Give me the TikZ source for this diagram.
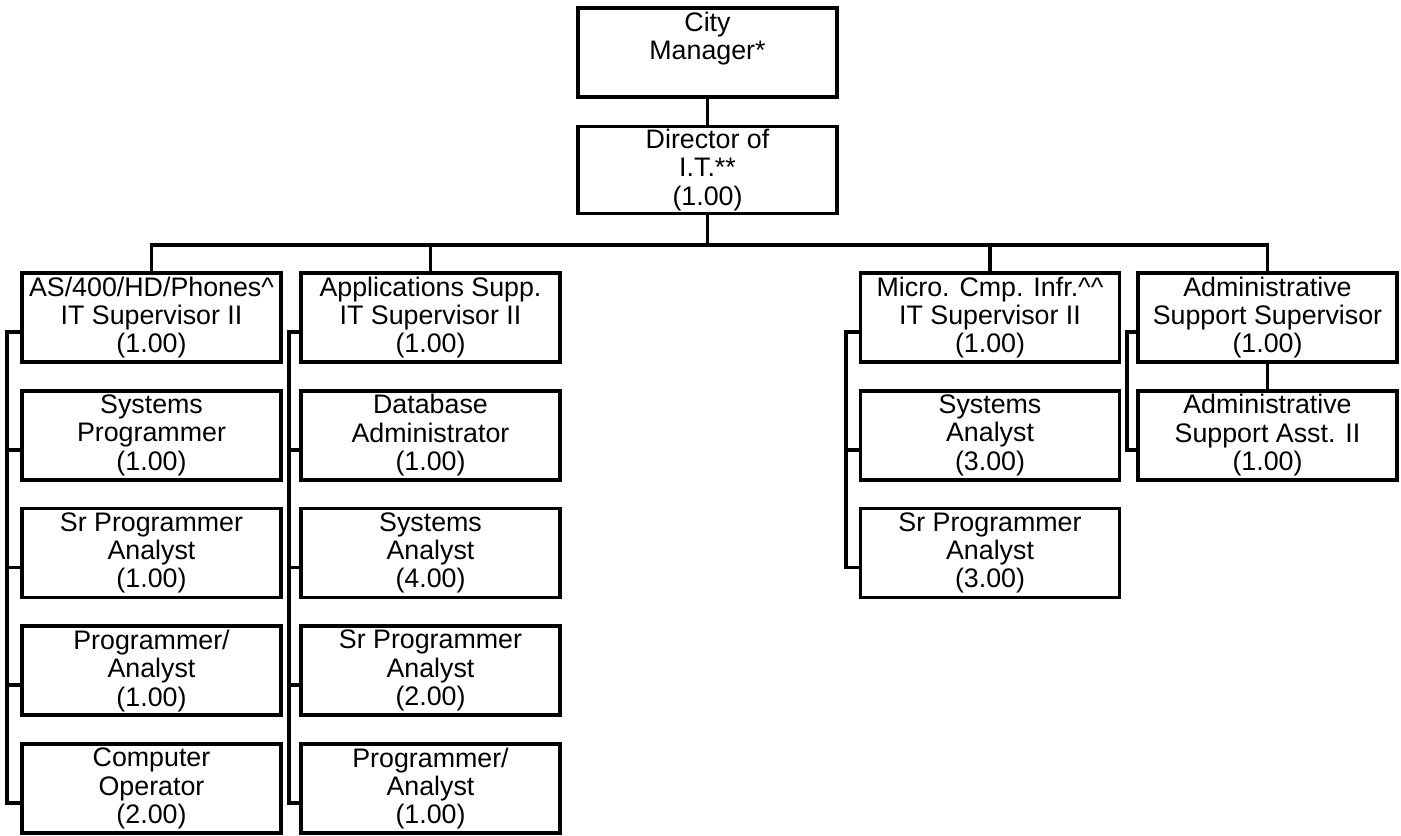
\documentclass[tikz,border=0pt]{standalone}
\usepackage{fontspec}
\setmainfont{Liberation Sans}
\begin{document}
\begin{tikzpicture}[x=0.5pt,y=-0.5pt,line width=1.8pt,line join=miter,
	post/.style={draw,line width=1.8pt,minimum width=129.5pt,minimum height=44.5pt,inner sep=0pt,align=center,font=\fontsize{13.4}{14.2}\selectfont}]
	\useasboundingbox (0,0) rectangle (1401,835);
	% top of the chart
	\node[post] (cm) at (707.5,52.5) {City\\Manager*\\\phantom{(1.00)}};
	\node[post,minimum height=43.5pt] (dir) at (707.5,170) {Director of\\I.T.**\\(1.00)};
	\coordinate (bus) at (710,245);
	% AS/400 column
	\node[post] (as) at (151.5,317.5) {AS/400/HD/Phones\textasciicircum\\IT Supervisor II\\(1.00)};
	\node[post] (sysprog) at (151.5,435.25) {Systems\\Programmer\\(1.00)};
	\node[post] (srpa1) at (151.5,553) {Sr Programmer\\Analyst\\(1.00)};
	\node[post] (pa1) at (151.5,670.75) {Programmer/\\Analyst\\(1.00)};
	\node[post] (compop) at (151.5,788.5) {Computer\\Operator\\(2.00)};
	% applications column
	\node[post] (apps) at (430.5,317.5) {Applications Supp.\\IT Supervisor II\\(1.00)};
	\node[post] (dba) at (430.5,435.25) {Database\\Administrator\\(1.00)};
	\node[post] (sa1) at (430.5,553) {Systems\\Analyst\\(4.00)};
	\node[post] (srpa2) at (430.5,670.75) {Sr Programmer\\Analyst\\(2.00)};
	\node[post] (pa2) at (430.5,788.5) {Programmer/\\Analyst\\(1.00)};
	% micro column
	\node[post] (micro) at (990,317.5) {Micro. Cmp. Infr.\textasciicircum\textasciicircum\\IT Supervisor II\\(1.00)};
	\node[post] (sa2) at (990,435.25) {Systems\\Analyst\\(3.00)};
	\node[post] (srpa3) at (990,553) {Sr Programmer\\Analyst\\(3.00)};
	% admin column
	\node[post] (adm) at (1267.5,317.5) {Administrative\\Support Supervisor\\(1.00)};
	\node[post] (asst) at (1267.5,435.25) {Administrative\\Support Asst. II\\(1.00)};
	% reporting lines
	\draw (cm) -- (dir);
	\draw (dir) -- (dir |- bus);
	\draw (as.north) |- (adm |- bus) -- (adm.north);
	\draw (apps.north) -- (apps |- bus);
	\draw (micro.north) -- (micro |- bus);
	\draw (adm) -- (asst);
	\draw ([yshift=-7.25pt]as.west) -- ++(-13,0) |- ([yshift=-7.25pt]compop.west);
	\foreach \n in {sysprog,srpa1,pa1} \draw ([yshift=-7.25pt]\n.west) -- ++(-13,0);
	\draw ([yshift=-7.25pt]apps.west) -- ++(-10,0) |- ([yshift=-7.25pt]pa2.west);
	\foreach \n in {dba,sa1,srpa2} \draw ([yshift=-7.25pt]\n.west) -- ++(-10,0);
	\draw ([yshift=-7.25pt]micro.west) -- ++(-13,0) |- ([yshift=-7.25pt]srpa3.west);
	\draw ([yshift=-7.25pt]sa2.west) -- ++(-13,0);
	\draw ([yshift=-7.25pt]adm.west) -- ++(-9,0) |- ([yshift=-7.25pt]asst.west);
\end{tikzpicture}
\end{document}
